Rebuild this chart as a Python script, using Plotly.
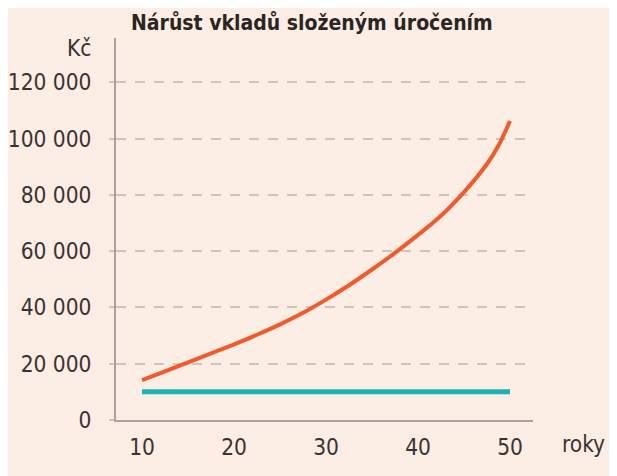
import plotly.graph_objects as go

years = [10, 12.5, 15, 17.5, 20, 22.5, 25, 27.5, 30, 32.5, 35, 37.5, 40, 42.5, 45, 47.5, 48.75, 50]
compound = [14200, 17300, 20500, 23700, 26900, 30300, 34000, 38100, 42800, 47900, 53500, 59400, 65800, 72600, 81000, 91000, 97600, 106300]
deposit_years = [10, 50]
deposit = [10000, 10000]

x_ticks = [10, 20, 30, 40, 50]
y_ticks = [0, 20000, 40000, 60000, 80000, 100000, 120000]

title_text = "Nárůst vkladů složeným úročením"
y_unit = "Kč"
x_unit = "roky"

FONT = "DejaVu Sans Condensed, Liberation Sans Narrow, sans-serif"
BG = "#fcede5"
TXT = "#3a3330"
AX = "#a9a29d"
GRID = "#cdc5be"
TS = 22.5

fig = go.Figure()
fig.add_trace(go.Scatter(x=deposit_years, y=deposit, mode="lines",
                         line=dict(color="#1ab4b4", width=5), hoverinfo="skip"))
fig.add_trace(go.Scatter(x=years, y=compound, mode="lines",
                         line=dict(color="#f15a2b", width=4, shape="spline", smoothing=1.0),
                         hoverinfo="skip"))

# page body has an 8px margin, so the figure is drawn 8px smaller and offset
fig.update_layout(
    width=609, height=468,
    margin=dict(l=108, r=84, t=30, b=56),
    paper_bgcolor=BG, plot_bgcolor=BG,
    showlegend=False,
    separators=", ",
    font=dict(family=FONT, size=TS, color=TXT),
    xaxis=dict(range=[7.17, 52.5], tickvals=x_ticks, showgrid=False, zeroline=False,
               showline=True, linecolor=AX, linewidth=2, ticks="", ticklabelstandoff=6,
               automargin=False, fixedrange=True),
    yaxis=dict(range=[0, 135800], tickvals=y_ticks, tickformat=",d", showgrid=True,
               gridcolor=GRID, gridwidth=2, griddash="10px,9px", zeroline=False,
               showline=True, linecolor=AX, linewidth=2,
               ticks="outside", ticklen=5, tickwidth=2, tickcolor=GRID, ticklabelstandoff=13,
               automargin=False, fixedrange=True),
    annotations=[
        dict(text="<b>" + title_text + "</b>", xref="paper", yref="paper",
             x=(312 - 116) / 417, y=1 + 15 / 382, xanchor="center", yanchor="middle",
             showarrow=False, font=dict(family=FONT, size=21, color="#2b2522")),
        dict(text=y_unit, xref="paper", yref="paper", x=-(116 - 93) / 417, y=1 - 10 / 382,
             xanchor="right", yanchor="middle", showarrow=False,
             font=dict(family=FONT, size=TS, color=TXT)),
        dict(text=x_unit, xref="paper", yref="paper", x=(583 - 116) / 417, y=-24 / 382,
             xanchor="center", yanchor="middle", showarrow=False,
             font=dict(family=FONT, size=TS, color=TXT)),
    ],
)

fig.write_html("out.html")
